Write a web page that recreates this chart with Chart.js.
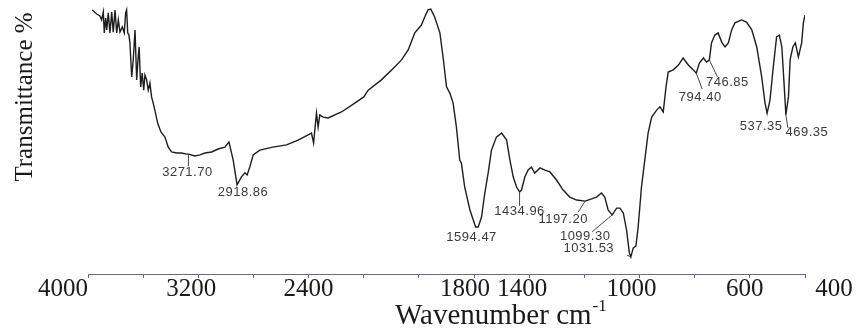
<!DOCTYPE html>
<html>
<head>
<meta charset="utf-8">
<script src="https://cdn.jsdelivr.net/npm/chart.js@4.4.1/dist/chart.umd.min.js"></script>
<style>
  body { margin: 0; background: #fff; }
</style>
</head>
<body>
<canvas id="myChart" width="857" height="333"></canvas>
<script>
var wavenumbers = [3969,3937,3913,3901,3889,3882,3872,3864,3853,3841,
  3828,3817,3804,3792,3780,3768,3751,3737,3727,3720,
  3712,3703,3696,3683,3672,3659,3647,3636,3629,3618,
  3607,3596,3587,3575,3563,3551,3539,3527,3515,3495,
  3471,3442,3418,3394,3357,3321,3285,3271.70,3225,3188,
  3152,3104,3056,3007,2978,2969,2947,2918.86,2887,2862,
  2846,2826,2802,2754,2660,2560,2476,2404,2379,2364,
  2343,2331,2319,2295,2259,2162,2065,2000,1984,1936,
  1888,1863,1839,1815,1791,1779,1767,1757,1743,1724,
  1712,1700,1688,1676,1664,1652,1646,1634,1615,1594.47,
  1585,1573,1561,1549,1537,1519,1500,1482,1470,1458,
  1446,1434.96,1428,1416,1404,1392,1380,1361,1343,1325,
  1301,1277,1253,1228,1197.20,1174,1156,1138,1126,1114,
  1099.30,1083,1071,1059,1047,1037,1031.53,1023,1013,1005,
  993,981,969,956,938,926,914,904,896,878,
  859,842,823,805,794.40,783,768,757,746.85,739,
  727,715,702,690,678,666,654,630,612,593,
  575,557,545,537.35,527,515,503,493,484,476,
  469.35,460,454,444,435,424,412,406,400];

var transmittance = [97.8,96.3,95.6,94.1,97.1,89.3,94.8,90.4,96.7,89.3,
  97.0,89.6,97.8,89.3,94.1,89.6,91.5,89.3,96.7,97.8,
  89.3,88.5,85.6,73.0,79.3,90.4,71.9,80.4,84.1,69.3,
  74.4,68.1,73.7,71.9,68.1,70.7,65.6,63.3,60.7,55.9,
  52.6,50.7,47.0,45.2,44.8,44.8,44.4,44.4,43.7,44.1,
  44.8,45.2,46.3,47.0,48.9,47.0,42.2,33.0,36.0,37.5,
  36.7,39.7,44.1,45.9,47.0,47.8,49.6,51.5,52.2,48.5,
  59.6,54.4,58.9,58.1,57.8,60.0,63.3,65.6,68.1,71.9,
  76.7,79.3,83.0,89.3,92.2,95.2,97.8,98.1,95.2,89.3,
  80.0,69.3,67.0,63.3,54.4,42.2,41.1,32.2,23.7,17.4,
  17.4,21.1,30.0,37.4,45.9,50.7,52.2,49.6,42.2,35.9,
  32.2,30.4,31.1,35.9,38.5,39.6,37.4,39.3,38.5,37.8,
  34.8,31.1,28.5,27.4,27.0,27.8,28.5,30.0,28.5,23.7,
  21.9,24.4,24.4,22.6,16.3,7.8,6.3,9.6,10.4,17.4,
  32.2,42.2,52.2,58.1,60.7,61.9,60.0,69.3,74.8,75.6,
  77.4,80.0,77.4,75.6,74.4,78.1,80.0,78.5,79.3,85.6,
  88.5,89.3,85.9,84.1,85.6,90.4,93.0,94.1,93.3,90.4,
  84.1,73.0,63.3,59.6,64.4,76.7,87.8,88.5,84.1,70.7,
  58.9,65.6,79.3,84.1,85.6,80.4,85.6,93.0,95.9];

var peakWavenumbers = [3271.70, 2918.86, 1594.47, 1434.96, 1197.20, 1099.30, 1031.53, 794.40, 746.85, 537.35, 469.35];

var tickValues = [4000,3600,3200,2800,2400,2000,1800,1600,1400,1200,1000,800,600,400];
var tickLabels = ["4000","3200","2400","1800","1400","1000","600","400"];

// spectrometer printout: 4000-2000 at half the scale of 2000-400
function axisPos(w) {
  return w >= 2000 ? (4000 - w) / 400 : 5 + (2000 - w) / 200;
}

// label centre [dx,dy] and leader end [dx,dy] relative to the peak, in px
var peakLayout = [
  [-1, 18, 0, 12],
  [6, 8, null, null],
  [-4, 10, null, null],
  [0, 20, 0, 14],
  [-22, 18, -7, 11],
  [-27, 22, -20, 17],
  [-42, -9, -4, -2],
  [4, 24, 6, 16],
  [18, 23, 8, 17],
  [-6, 13, null, null],
  [21, 17, 2, 13]
];
// the pasted-on axis numbers do not sit exactly on their ticks
var labelNudge = [-25, -7, 0, 46, -7, -8, -5, 29];

var textPlugin = {
  id: 'texts',
  afterDraw: function(chart) {
    var ctx = chart.ctx, xs = chart.scales.x, ys = chart.scales.y;
    ctx.save();

    // tick numbers
    ctx.fillStyle = '#1a1a1a';
    ctx.font = '25px "Liberation Serif"';
    ctx.textAlign = 'center';
    ctx.textBaseline = 'middle';
    tickLabels.forEach(function(t, i) {
      ctx.fillText(t, xs.getPixelForValue(axisPos(parseFloat(t))) + labelNudge[i], 289);
    });

    // x title with superscript
    ctx.textAlign = 'left';
    ctx.textBaseline = 'alphabetic';
    ctx.font = '29px "Liberation Serif"';
    var main = 'Wavenumber cm';
    ctx.fillText(main, 395, 324);
    var w = ctx.measureText(main).width;
    ctx.font = '17px "Liberation Serif"';
    ctx.fillText('-1', 395 + w + 1, 311);

    // y title
    ctx.save();
    ctx.translate(25, 97);
    ctx.rotate(-Math.PI / 2);
    ctx.font = '25px "Liberation Serif"';
    ctx.textAlign = 'center';
    ctx.textBaseline = 'middle';
    ctx.fillText('Transmittance %', 0, 0);
    ctx.restore();

    // peak annotations
    ctx.font = '13px "Liberation Sans"';
    ctx.letterSpacing = '0.5px';
    ctx.fillStyle = '#3a3a3a';
    ctx.strokeStyle = '#444';
    ctx.lineWidth = 1;
    ctx.textAlign = 'center';
    ctx.textBaseline = 'middle';
    peakWavenumbers.forEach(function(p, i) {
      var k = wavenumbers.indexOf(p);
      var px = xs.getPixelForValue(axisPos(p));
      var py = ys.getPixelForValue(transmittance[k]);
      var L = peakLayout[i];
      if (L[2] !== null) {
        ctx.beginPath();
        ctx.moveTo(px, py);
        ctx.lineTo(px + L[2], py + L[3]);
        ctx.stroke();
      }
      ctx.fillText(p.toFixed(2), px + L[0], py + L[1]);
    });
    ctx.restore();
  }
};

new Chart("myChart", {
  type: "line",
  data: {
    datasets: [{
      data: wavenumbers.map(function(w, i) { return {x: axisPos(w), y: transmittance[i]}; }),
      borderColor: "#1e1e1e",
      borderWidth: 1.4,
      pointRadius: 0,
      tension: 0,
      fill: false
    }]
  },
  options: {
    responsive: false,
    animation: false,
    layout: { padding: { left: 88, right: 52, top: 4, bottom: 55 } },
    plugins: { legend: { display: false }, tooltip: { enabled: false } },
    scales: {
      x: {
        type: "linear",
        min: 0,
        max: 13,
        afterBuildTicks: function(s) {
          s.ticks = tickValues.map(function(v) { return {value: axisPos(v)}; });
        },
        ticks: { display: false },
        grid: { drawOnChartArea: false, tickLength: 4, color: "#5a5ad0" },
        border: { color: "#6b6b80", width: 1 }
      },
      y: { display: false, min: 0, max: 100 }
    }
  },
  plugins: [textPlugin]
});
</script>
</body>
</html>
